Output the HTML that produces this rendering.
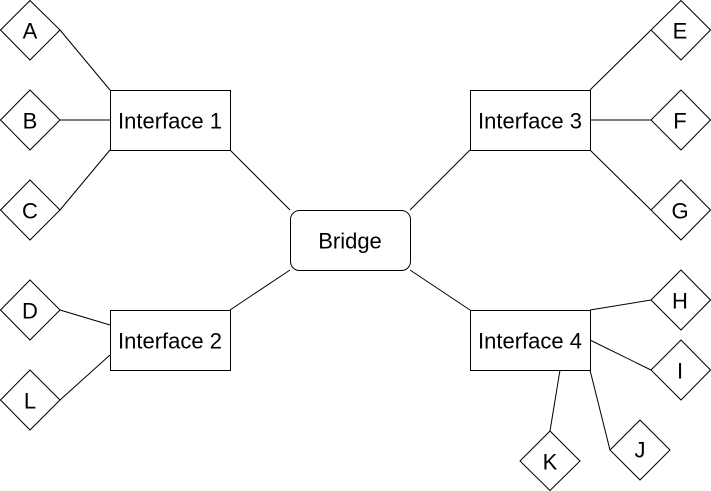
<!DOCTYPE html>
<html><head><meta charset="utf-8"><style>
html,body{margin:0;padding:0;background:#fff;}
svg{display:block;}
text{font-family:"Liberation Sans",Arial,sans-serif;font-size:22px;fill:#000;text-anchor:middle;dominant-baseline:central;}
</style></head><body>
<svg width="711" height="491" viewBox="0 0 711 491" xmlns="http://www.w3.org/2000/svg">
<g stroke="#000" stroke-width="1" fill="none">
<line x1="60" y1="30" x2="110" y2="90"/>
<line x1="60" y1="120" x2="110" y2="120"/>
<line x1="60" y1="210" x2="110" y2="150"/>
<line x1="60" y1="310" x2="110" y2="325"/>
<line x1="60" y1="400" x2="110" y2="355"/>
<line x1="230" y1="150" x2="290" y2="210"/>
<line x1="230" y1="310" x2="290" y2="270"/>
<line x1="470" y1="150" x2="410" y2="210"/>
<line x1="470" y1="310" x2="410" y2="270"/>
<line x1="590" y1="90" x2="651" y2="30"/>
<line x1="590" y1="120" x2="651" y2="120"/>
<line x1="590" y1="150" x2="651" y2="210"/>
<line x1="590" y1="310" x2="651" y2="300"/>
<line x1="590" y1="340" x2="651" y2="370"/>
<line x1="590" y1="370" x2="610" y2="450"/>
<line x1="560" y1="370" x2="550" y2="431"/>
</g>
<g stroke="#000" stroke-width="1" fill="#fff">
<rect x="110.5" y="90.5" width="120" height="60"/>
<rect x="470.5" y="90.5" width="120" height="60"/>
<rect x="110.5" y="310.5" width="120" height="60"/>
<rect x="470.5" y="310.5" width="120" height="60"/>
<rect x="290.5" y="210.5" width="120" height="60" rx="9"/>
<polygon points="30,0.5 60,30 30,60 0.5,30"/>
<polygon points="30,90 60,120 30,150 0.5,120"/>
<polygon points="30,180 60,210 30,240 0.5,210"/>
<polygon points="30,280 60,310 30,340 0.5,310"/>
<polygon points="30,370 60,400 30,430 0.5,400"/>
<polygon points="681,0.5 710.5,30 681,60 651,30"/>
<polygon points="681,90 710.5,120 681,150 651,120"/>
<polygon points="681,180 710.5,210 681,240 651,210"/>
<polygon points="681,270 710.5,300 681,330 651,300"/>
<polygon points="681,340 710.5,370 681,400 651,370"/>
<polygon points="640,420 670,450 640,480 610,450"/>
<polygon points="550,431 580,461 550,490.5 520,461"/>
</g>
<text x="170" y="121">Interface 1</text>
<text x="530" y="121">Interface 3</text>
<text x="170" y="341">Interface 2</text>
<text x="530" y="341">Interface 4</text>
<text x="350" y="241">Bridge</text>
<text x="30" y="31">A</text>
<text x="30" y="121">B</text>
<text x="30" y="211">C</text>
<text x="30" y="311">D</text>
<text x="30" y="401">L</text>
<text x="680" y="31">E</text>
<text x="680" y="121">F</text>
<text x="680" y="211">G</text>
<text x="680" y="301">H</text>
<text x="680" y="371">I</text>
<text x="640" y="450">J</text>
<text x="550" y="462">K</text>
</svg>
</body></html>
